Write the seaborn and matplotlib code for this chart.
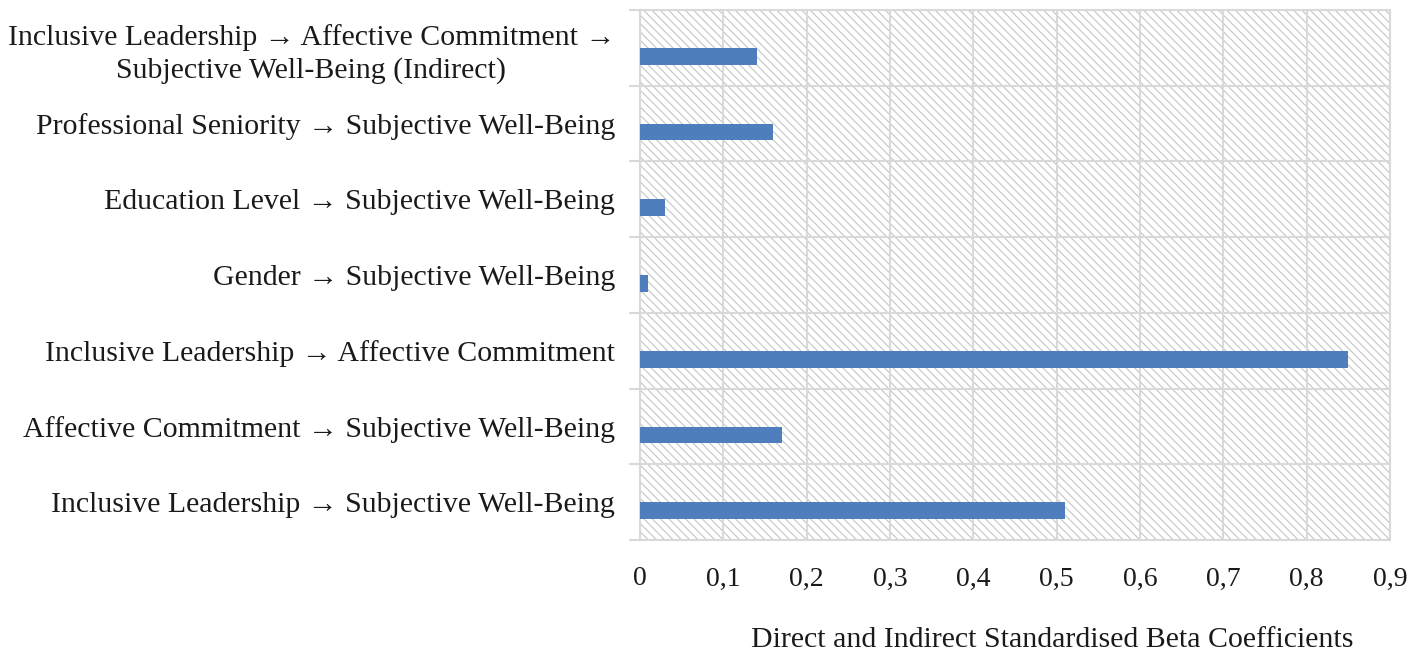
import matplotlib
matplotlib.use("Agg")
import matplotlib.pyplot as plt
from matplotlib.patches import Rectangle
import seaborn as sns
import pandas as pd
import numpy as np

categories = [
    "Inclusive Leadership → Affective Commitment →\nSubjective Well-Being (Indirect)",
    "Professional Seniority → Subjective Well-Being",
    "Education Level → Subjective Well-Being",
    "Gender → Subjective Well-Being",
    "Inclusive Leadership → Affective Commitment",
    "Affective Commitment → Subjective Well-Being",
    "Inclusive Leadership → Subjective Well-Being",
]
values = [0.14, 0.16, 0.03, 0.01, 0.85, 0.17, 0.51]
xticks = [0, 0.1, 0.2, 0.3, 0.4, 0.5, 0.6, 0.7, 0.8, 0.9]
xtick_labels = ["0", "0,1", "0,2", "0,3", "0,4", "0,5", "0,6", "0,7", "0,8", "0,9"]
xlabel = "Direct and Indirect Standardised Beta Coefficients"

sns.set_theme(style="white")
plt.rcParams["font.family"] = ["Liberation Serif", "DejaVu Serif"]
plt.rcParams["hatch.linewidth"] = 0.75

df = pd.DataFrame({"cat": categories, "val": values})

fig = plt.figure(figsize=(14.17, 6.56), dpi=100)
ax = fig.add_axes([0.4517, 0.1768, 0.981 - 0.4517, 0.9848 - 0.1768])

grid_c = "#d9d9d9"
ax.set_facecolor("white")
bg = Rectangle((0, 0), 1, 1, transform=ax.transAxes, facecolor="white",
               edgecolor="#c2c2c2", linewidth=0, hatch="\\\\\\\\", zorder=0)
ax.add_patch(bg)

sns.barplot(data=df, x="val", y="cat", orient="h", color="#4e7fbc",
            width=0.22, saturation=1, ax=ax, zorder=3, edgecolor="none")
for p in ax.patches:
    if p is bg:
        continue
    p.set_y(p.get_y() + 0.112)

ax.set_xlim(0, 0.9)
ax.set_ylim(len(categories) - 0.5, -0.5)
ax.set_xticks(xticks)
ax.set_xticklabels(xtick_labels, fontsize=20, color="#1a1a1a")
ax.tick_params(axis="x", length=0, pad=19)
ax.tick_params(axis="y", which="major", length=0, pad=18, labelsize=21.5, labelcolor="#1a1a1a")
for t in ax.get_yticklabels():
    t.set_multialignment("center")
    t.set_linespacing(1.3)

ax.set_yticks(np.arange(-0.5, len(categories), 1.0), minor=True)
ax.tick_params(axis="y", which="minor", length=8, width=1.5, color=grid_c, left=True)
ax.grid(True, which="minor", axis="y", color=grid_c, linewidth=1.5, zorder=1)
ax.grid(True, which="major", axis="x", color=grid_c, linewidth=1.5, zorder=1)
ax.set_axisbelow(True)
for s in ax.spines.values():
    s.set_color(grid_c)
    s.set_linewidth(1.5)

ax.set_ylabel("")
ax.set_xlabel(xlabel, fontsize=21.5, color="#1a1a1a")
ax.xaxis.set_label_coords(0.549, -0.164)

fig.savefig("out.png", dpi=100)
